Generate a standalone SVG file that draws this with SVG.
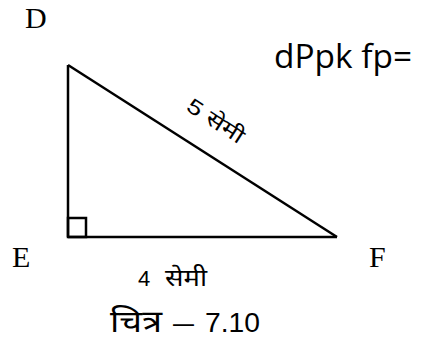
<svg xmlns="http://www.w3.org/2000/svg" width="430" height="343" viewBox="0 0 430 343">
<style>
.serif{font-family:"Liberation Serif","Times New Roman",serif;font-size:30px;fill:#000}
.dev{font-family:"Liberation Sans","Noto Sans","Noto Sans Devanagari",sans-serif;fill:#000}
.edge{stroke:#000;stroke-width:2.5;fill:none;stroke-linejoin:miter}
</style>
<rect width="430" height="343" fill="#fff"/>
<g id="connectors">
<line class="edge" x1="68" y1="65" x2="68" y2="237"/>
<line class="edge" x1="68" y1="237" x2="337" y2="237"/>
<line class="edge" x1="68" y1="65" x2="337" y2="237"/>
<rect class="edge" x="68" y="218" width="18" height="19"/>
</g>
<g id="node-D"><text class="serif" x="25" y="28">D</text></g>
<g id="node-E"><text class="serif" x="12" y="267">E</text></g>
<g id="node-F"><text class="serif" x="369" y="267">F</text></g>
<g id="label-hyp"><text class="dev" font-size="21" text-anchor="middle" y="6" transform="translate(215,122) rotate(33)" textLength="64" lengthAdjust="spacingAndGlyphs">5 सेमी</text></g>
<g id="label-base"><text class="dev" font-size="22"><tspan x="138" y="286">4</tspan><tspan x="165" y="286" font-size="24" textLength="42" lengthAdjust="spacingAndGlyphs">सेमी</tspan></text></g>
<g id="title"><text x="274" y="68" font-family="'Open Sans','Liberation Sans',sans-serif" font-size="32" textLength="138" lengthAdjust="spacingAndGlyphs">dPpk  fp=</text></g>
<g id="caption"><text class="dev" font-size="27"><tspan x="110" y="332" font-size="30" textLength="52" lengthAdjust="spacingAndGlyphs">चित्र</tspan><tspan x="173" y="332" textLength="21" lengthAdjust="spacingAndGlyphs">–</tspan><tspan x="205" y="332" textLength="55" lengthAdjust="spacingAndGlyphs">7.10</tspan></text></g>
</svg>
